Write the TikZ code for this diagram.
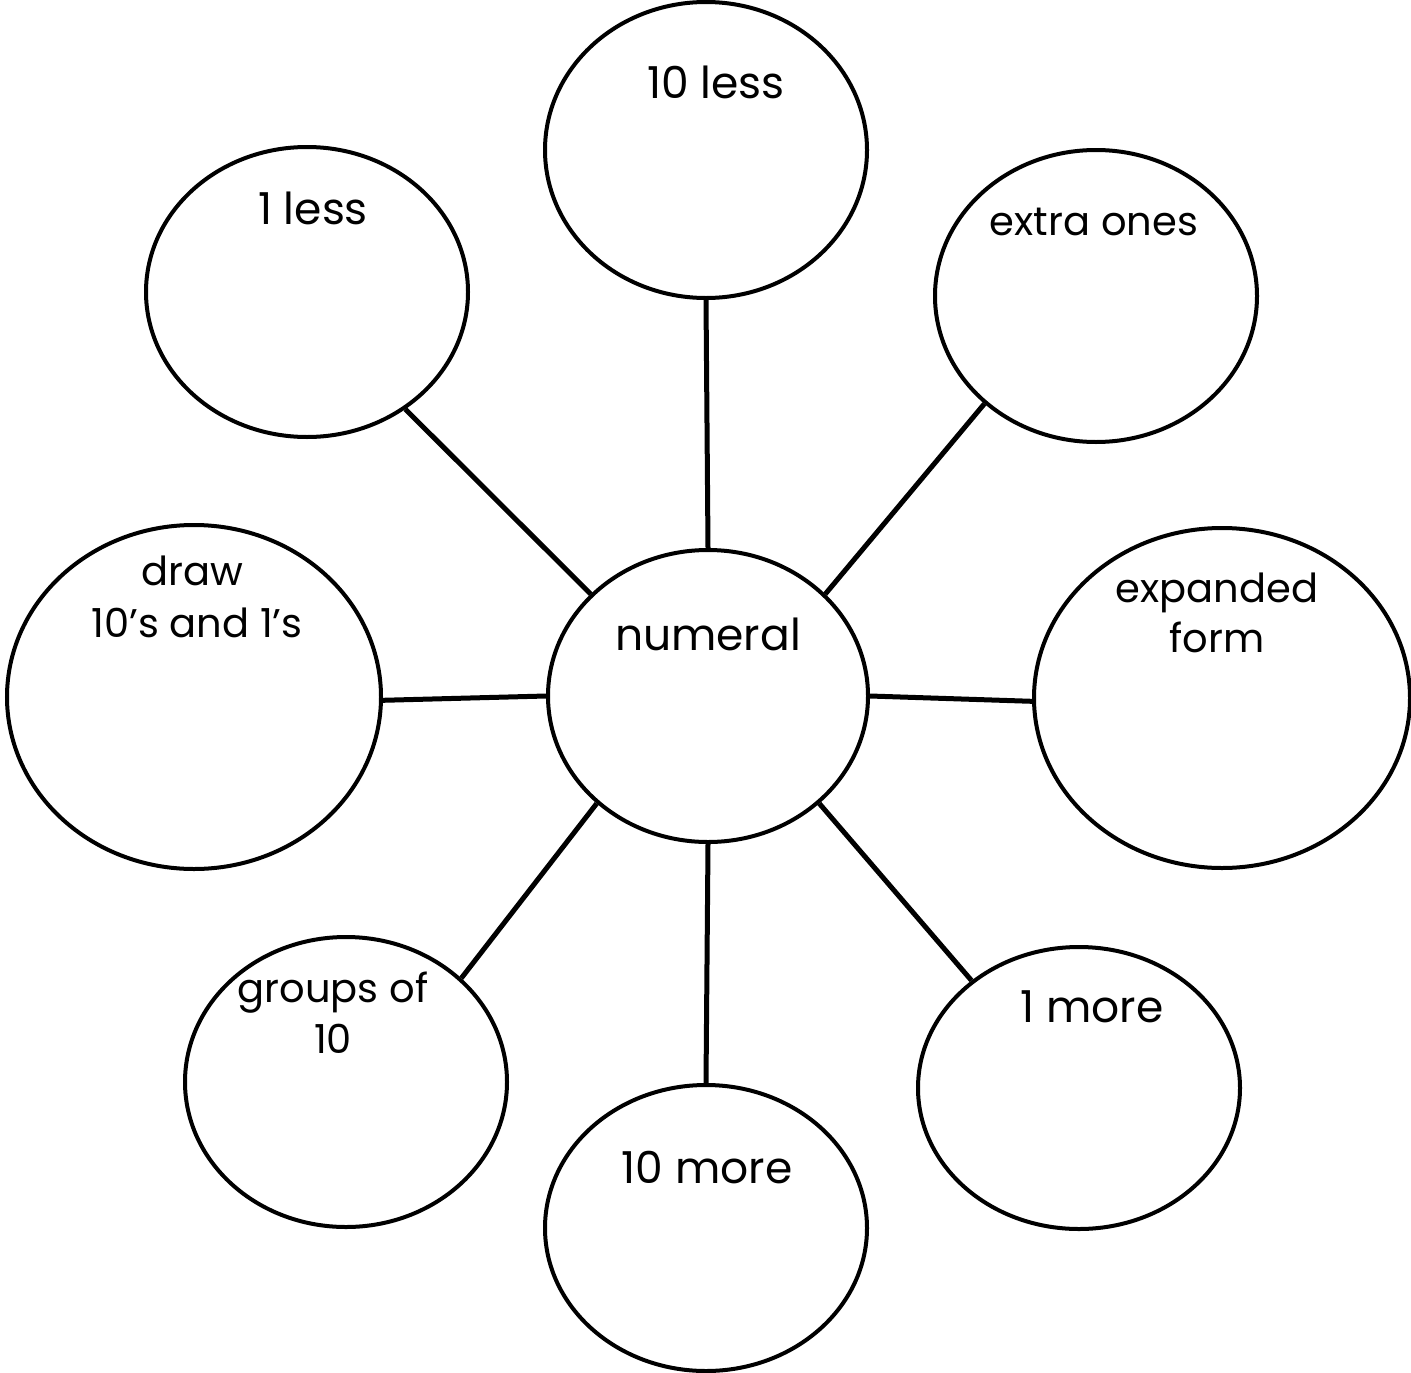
\documentclass[tikz,border=0pt]{standalone}
\usepackage{fontspec}
\setmainfont{Poppins}
\usetikzlibrary{shapes.geometric}
\begin{document}
\begin{tikzpicture}[x=1pt,y=-1pt,
  bubble/.style={draw=black,line width=4pt,ellipse,inner sep=0pt},
  link/.style={draw=black,line width=5pt},
  lbl/.style={anchor=base,inner sep=0pt,font=\fontsize{44}{48}\selectfont,align=center},
  slbl/.style={anchor=base,inner sep=0pt,font=\fontsize{40}{44}\selectfont}]
\useasboundingbox (0,0) rectangle (1411,1373);
\node[bubble,minimum width=320pt,minimum height=292pt] (numeral) at (708,696) {};
\node[bubble,minimum width=322pt,minimum height=296pt] (tenless) at (706,150) {};
\node[bubble,minimum width=322pt,minimum height=290pt] (oneless) at (307,292) {};
\node[bubble,minimum width=322pt,minimum height=292pt] (extra) at (1096,296) {};
\node[bubble,minimum width=374pt,minimum height=344pt] (draw) at (194,697) {};
\node[bubble,minimum width=376pt,minimum height=340pt] (expanded) at (1222,698) {};
\node[bubble,minimum width=322pt,minimum height=290pt] (groups) at (346,1082) {};
\node[bubble,minimum width=322pt,minimum height=286pt] (tenmore) at (706,1228) {};
\node[bubble,minimum width=322pt,minimum height=282pt] (onemore) at (1079,1088) {};
\draw[link] (numeral.90) -- (tenless.270);
\draw[link] (numeral.139) -- (oneless.-50);
\draw[link] (numeral.41) -- (extra.-136);
\draw[link] (numeral.180) -- (draw.-1);
\draw[link] (numeral.0) -- (expanded.181);
\draw[link] (numeral.224) -- (groups.42);
\draw[link] (numeral.270) -- (tenmore.90);
\draw[link] (numeral.-44) -- (onemore.135);
\node[lbl] (tnumeral) at (708,650) {numeral};
\node[lbl] (ttenless) at (716,98) {10 less};
\node[lbl] (toneless) at (313,224) {1 less};
\node[slbl] (textra) at (1094,235) {extra ones};
\node[slbl] (tdraw1) at (192,585) {draw};
\node[slbl] (tdraw2) at (197,637) {10’s and 1’s};
\node[slbl] (texp1) at (1217,602) {expanded};
\node[slbl] (texp2) at (1217,652) {form};
\node[slbl] (tgr1) at (333,1002) {groups of};
\node[slbl] (tgr2) at (333,1053) {10};
\node[lbl] (ttenmore) at (707,1183) {10 more};
\node[lbl] (tonemore) at (1092,1022) {1 more};
\end{tikzpicture}
\end{document}
